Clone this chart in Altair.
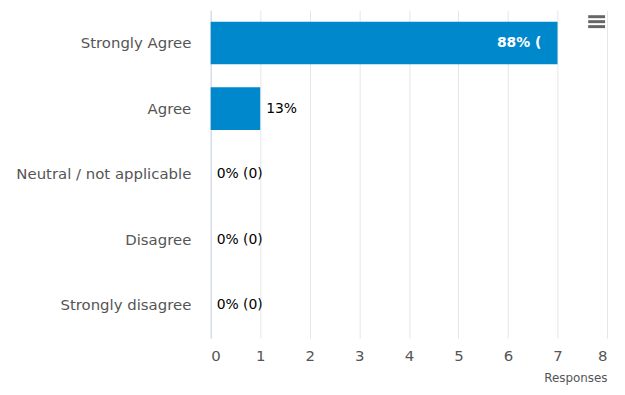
import altair as alt
import pandas as pd

categories = ["Strongly Agree", "Agree", "Neutral / not applicable", "Disagree", "Strongly disagree"]
responses = [7, 1, 0, 0, 0]
labels = ["88% (", "13%", "0% (0)", "0% (0)", "0% (0)"]
inside = [True, False, False, False, False]
x_ticks = [0, 1, 2, 3, 4, 5, 6, 7, 8]

df = pd.DataFrame({"category": categories, "responses": responses,
                   "label": labels, "inside": inside})

FONT = "DejaVu Sans"

y_enc = alt.Y("category:N", sort=categories, title=None,
              scale=alt.Scale(paddingInner=0.35, paddingOuter=0.175),
              axis=alt.Axis(labelFontSize=15, labelColor="#555555", labelFont=FONT,
                            ticks=False, labelPadding=20, domainColor="#ccd6eb",
                            domainWidth=1, grid=False))

x_enc = alt.X("responses:Q", scale=alt.Scale(domain=[0, 8], nice=False),
              title="Responses",
              axis=alt.Axis(values=x_ticks, grid=True, gridColor="#e6e6e6",
                            domain=False, ticks=False, labelFontSize=15,
                            labelColor="#555555", labelFont=FONT, labelPadding=11,
                            titleAnchor="end", titleAlign="right", titleFontSize=12,
                            titleFontWeight="normal", titleColor="#555555",
                            titleFont=FONT, titlePadding=9))

base = alt.Chart(df)

bars = base.mark_bar(color="#0088cc").encode(x=x_enc, y=y_enc)

inside_lbl = base.transform_filter("datum.inside").mark_text(
    align="left", baseline="middle", dx=-61, fontSize=14, fontWeight="bold",
    font=FONT, color="white").encode(x="responses:Q", y=alt.Y("category:N", sort=categories), text="label:N")

outside_lbl = base.transform_filter("!datum.inside").mark_text(
    align="left", baseline="middle", dx=6, fontSize=14, fontWeight="normal",
    font=FONT, color="#000000").encode(x="responses:Q", y=alt.Y("category:N", sort=categories), text="label:N")

one = pd.DataFrame({"k": [0]})
menu = [
    alt.Chart(one).mark_rule(color="#666666", strokeWidth=3).encode(
        x=alt.value(380), x2=alt.value(397), y=alt.value(yy))
    for yy in (6.5, 11.5, 16.5)
]

chart = alt.layer(bars, inside_lbl, outside_lbl, *menu).properties(
    width=399, height=330,
    autosize=alt.AutoSizeParams(type="none"),
    padding={"left": 204, "top": 1, "right": 10, "bottom": 50},
).configure_view(stroke=None)

chart.save("out.html", embed_options={"renderer": "svg", "actions": False})
